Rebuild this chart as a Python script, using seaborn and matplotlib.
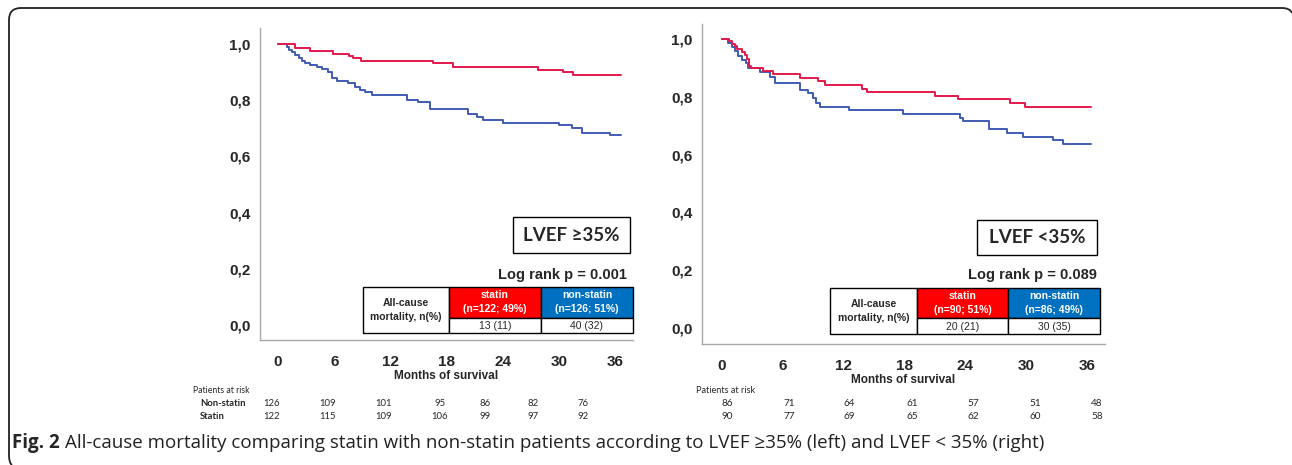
import matplotlib
matplotlib.use('Agg')
import matplotlib.pyplot as plt
from matplotlib.patches import Rectangle, PathPatch
from matplotlib.path import Path
import seaborn as sns

#%% data
ticks_months = [0, 6, 12, 18, 24, 30, 36]
ticks_surv = [0.0, 0.2, 0.4, 0.6, 0.8, 1.0]
ticks_surv_lbl = ['0,0', '0,2', '0,4', '0,6', '0,8', '1,0']

# LVEF >= 35%
hi_statin_t = [0, 1.8, 3.4, 5.9, 7.6, 8.0, 8.9, 16.6, 18.7, 27.8, 30.4, 31.5, 36.6]
hi_statin_s = [1.0, 0.985, 0.975, 0.965, 0.957, 0.95, 0.94, 0.932, 0.917, 0.907, 0.899, 0.889, 0.889]
hi_non_t = [0, 1.0, 1.21, 1.46, 1.82, 2.24, 2.53, 2.88, 3.42, 4.13, 4.67, 5.38, 5.73, 6.27, 7.52,
            8.23, 8.76, 9.3, 10.0, 13.75, 15.0, 16.24, 20.33, 21.2, 21.93, 24.07, 29.95, 31.37,
            32.44, 35.47, 36.6]
hi_non_s = [1.0, 0.99, 0.98, 0.97, 0.96, 0.952, 0.94, 0.932, 0.925, 0.918, 0.91, 0.9, 0.88, 0.867,
            0.86, 0.848, 0.838, 0.83, 0.817, 0.8, 0.793, 0.769, 0.752, 0.74, 0.729, 0.719, 0.711,
            0.702, 0.683, 0.676, 0.676]

# LVEF < 35%
lo_statin_t = [0, 0.7, 0.96, 1.3, 1.5, 1.94, 2.27, 2.5, 2.7, 2.9, 4.07, 5.06, 7.7, 9.5, 10.15,
               13.8, 14.3, 21.0, 23.3, 28.4, 29.9, 36.45]
lo_statin_s = [1.0, 0.992, 0.984, 0.975, 0.966, 0.955, 0.945, 0.931, 0.906, 0.9, 0.888, 0.879,
               0.866, 0.854, 0.84, 0.828, 0.816, 0.802, 0.791, 0.779, 0.766, 0.766]
lo_non_t = [0, 0.63, 0.96, 1.3, 1.6, 1.94, 2.37, 2.6, 3.75, 4.74, 5.23, 7.7, 8.5, 9.0, 9.3, 9.7,
            12.5, 17.9, 23.5, 23.8, 26.4, 28.1, 29.7, 32.7, 33.7, 36.45]
lo_non_s = [1.0, 0.986, 0.972, 0.957, 0.943, 0.929, 0.917, 0.9, 0.885, 0.869, 0.848, 0.825, 0.814,
            0.797, 0.779, 0.766, 0.754, 0.739, 0.728, 0.716, 0.69, 0.676, 0.662, 0.65, 0.638, 0.638]

hi_risk_non = [126, 109, 101, 95, 86, 82, 76]
hi_risk_statin = [122, 115, 109, 106, 99, 97, 92]
lo_risk_non = [86, 71, 64, 61, 57, 51, 48]
lo_risk_statin = [90, 77, 69, 65, 62, 60, 58]

hi_label = 'LVEF ≥35%'
lo_label = 'LVEF <35%'
hi_logrank = 'Log rank p = 0.001'
lo_logrank = 'Log rank p = 0.089'
hi_head = ['statin\n(n=122; 49%)', 'non-statin\n(n=126; 51%)']
lo_head = ['statin\n(n=90; 51%)', 'non-statin\n(n=86; 49%)']
hi_deaths = ['13 (11)', '40 (32)']
lo_deaths = ['20 (21)', '30 (35)']

RED = '#E2194A'
BLUE = '#3F5BB3'
W, H = 1292, 465

sns.set_style("white")
plt.rcParams['font.family'] = ['Liberation Sans', 'DejaVu Sans']

fig = plt.figure(figsize=(W / 100, H / 100), dpi=100)


def fx(x):
    return x / W


def fy(y):
    return 1 - y / H


def make_axes(rect, xlim, ylim):
    ax = fig.add_axes(rect)
    sns.despine(ax=ax)
    for sp in ['left', 'bottom']:
        ax.spines[sp].set_color('#a8a8a8')
        ax.spines[sp].set_linewidth(1.0)
    ax.set_xlim(*xlim)
    ax.set_ylim(*ylim)
    ax.set_xticks(ticks_months)
    ax.set_yticks(ticks_surv)
    ax.set_yticklabels(ticks_surv_lbl)
    ax.tick_params(axis='both', length=4, width=1, color='#a8a8a8', labelsize=11)
    ax.tick_params(axis='x', pad=7)
    ax.tick_params(axis='y', pad=3)
    for lb in ax.get_xticklabels() + ax.get_yticklabels():
        lb.set_fontweight('bold')
    ax.set_xlabel('Months of survival', fontsize=8.5, fontweight='bold', labelpad=0.5)
    return ax


#%% left panel
ax1 = make_axes([fx(260), fy(340), fx(633) - fx(260), fy(28) - fy(340)], (-1.92, 37.9), (-0.053, 1.057))
sns.lineplot(x=hi_non_t, y=hi_non_s, ax=ax1, color=BLUE, drawstyle='steps-post', linewidth=1.4, estimator=None)
sns.lineplot(x=hi_statin_t, y=hi_statin_s, ax=ax1, color=RED, drawstyle='steps-post', linewidth=1.4, estimator=None)

#%% right panel
ax2 = make_axes([fx(702), fy(344), fx(1105) - fx(702), fy(24) - fy(344)], (-1.97, 37.8), (-0.055, 1.052))
sns.lineplot(x=lo_non_t, y=lo_non_s, ax=ax2, color=BLUE, drawstyle='steps-post', linewidth=1.4, estimator=None)
sns.lineplot(x=lo_statin_t, y=lo_statin_s, ax=ax2, color=RED, drawstyle='steps-post', linewidth=1.4, estimator=None)


def rect(x0, y0, x1, y1, fc='white', lw=1.0):
    fig.add_artist(Rectangle((fx(x0), fy(y1)), fx(x1) - fx(x0), fy(y0) - fy(y1),
                             transform=fig.transFigure, facecolor=fc, edgecolor='black', linewidth=lw))


def annotate_panel(box, label, logrank, lr_xy, table, head, deaths):
    bx0, by0, bx1, by1 = box
    rect(bx0, by0, bx1, by1, lw=1.0)
    fig.text(fx((bx0 + bx1) / 2), fy((by0 + by1) / 2), label, fontsize=13.5, fontweight='bold',
             family=['Lato', 'DejaVu Sans'], ha='center', va='center')
    fig.text(fx(lr_xy[0]), fy(lr_xy[1]), logrank, fontsize=10.5, fontweight='bold', ha='right', va='center')
    x0, c1, c2, x1, y0, ym, y1 = table
    rect(x0, y0, c1, y1)
    rect(c1, y0, c2, ym, fc='#FF0000')
    rect(c2, y0, x1, ym, fc='#0070C0')
    rect(c1, ym, c2, y1)
    rect(c2, ym, x1, y1)
    fig.text(fx((x0 + c1) / 2), fy((y0 + y1) / 2), 'All-cause\nmortality, n(%)', fontsize=7.5,
             fontweight='bold', ha='center', va='center', linespacing=1.5)
    for (a, b), h, d in zip([(c1, c2), (c2, x1)], head, deaths):
        fig.text(fx((a + b) / 2), fy((y0 + ym) / 2), h, fontsize=7.5, fontweight='bold', color='white',
                 ha='center', va='center', linespacing=1.5)
        fig.text(fx((a + b) / 2), fy((ym + y1) / 2 + 0.5), d, fontsize=7.5, ha='center', va='center')


annotate_panel((513, 217, 630, 253), hi_label, hi_logrank, (627, 275),
               (363, 449, 541, 633, 287, 318, 333), hi_head, hi_deaths)
annotate_panel((977, 220, 1097, 255), lo_label, lo_logrank, (1097, 275),
               (830, 917, 1008, 1100, 288, 318, 334), lo_head, lo_deaths)

#%% patients at risk
risk_font = ['Lato', 'DejaVu Sans']
hi_pos = [272, 328, 384, 440, 485, 533, 583]
lo_pos = [727, 789, 849, 912, 973, 1035, 1097]
fig.text(fx(193), fy(390), 'Patients at risk', fontsize=6.2, family=risk_font, va='center')
fig.text(fx(200), fy(404), 'Non-statin', fontsize=6.8, family=risk_font, fontweight='bold', va='center')
fig.text(fx(200), fy(416), 'Statin', fontsize=6.8, family=risk_font, fontweight='bold', va='center')
for x, a, b in zip(hi_pos, hi_risk_non, hi_risk_statin):
    fig.text(fx(x), fy(404), str(a), fontsize=6.8, family=risk_font, ha='center', va='center')
    fig.text(fx(x), fy(416), str(b), fontsize=6.8, family=risk_font, ha='center', va='center')
fig.text(fx(696), fy(390), 'Patients at risk', fontsize=6.6, family=risk_font, va='center')
for x, a, b in zip(lo_pos, lo_risk_non, lo_risk_statin):
    fig.text(fx(x), fy(404), str(a), fontsize=7.2, family=risk_font, ha='center', va='center')
    fig.text(fx(x), fy(416), str(b), fontsize=7.2, family=risk_font, ha='center', va='center')

#%% caption and frame
cap_font = ['Open Sans', 'DejaVu Sans']
t1 = fig.text(fx(12), fy(443), 'Fig. 2', fontsize=13.5, fontweight='bold', family=cap_font, va='center')
fig.canvas.draw()
bb = t1.get_window_extent()
fig.text(bb.x1 / W + 5 / W, fy(443),
         'All-cause mortality comparing statin with non-statin patients according to LVEF ≥35% (left) and LVEF < 35% (right)',
         fontsize=13.5, family=cap_font, va='center', color='#222222')

verts = [(fx(12), fy(465)), (fx(9), fy(463)), (fx(9), fy(455)), (fx(9), fy(20)),
         (fx(9), fy(8)), (fx(21), fy(8)), (fx(1282), fy(8)), (fx(1290), fy(8)), (fx(1292), fy(13))]
codes = [Path.MOVETO, Path.CURVE3, Path.CURVE3, Path.LINETO, Path.CURVE3, Path.CURVE3,
         Path.LINETO, Path.CURVE3, Path.CURVE3]
fig.add_artist(PathPatch(Path(verts, codes), transform=fig.transFigure, facecolor='none',
                         edgecolor='#222222', linewidth=1.3))

plt.savefig('out.png', dpi=100)
